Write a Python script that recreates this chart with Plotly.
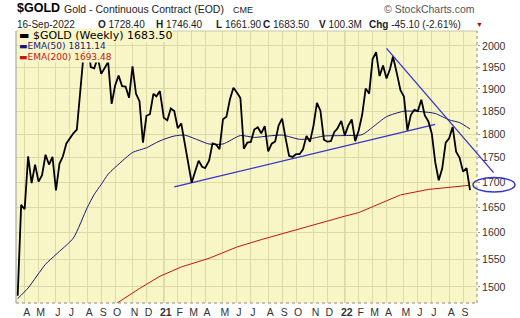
import numpy as np
import pandas as pd
import plotly.graph_objects as go

# ---------------- data ----------------
START = "2020-03-20"
CLOSES = [
    # 2020
    1484.0, 1654.2, 1645.7, 1752.8, 1698.0, 1735.6, 1700.9, 1713.9, 1756.3, 1735.8,
    1751.7, 1683.0, 1737.3, 1753.0, 1780.3, 1790.0, 1801.9, 1810.0, 1897.5, 1985.9,
    2028.0, 1949.9, 1947.0, 1972.9, 1934.3, 1947.9, 1962.1, 1866.3, 1907.6, 1930.4,
    1906.4, 1905.2, 1879.9, 1951.7, 1889.0, 1872.4, 1781.9, 1840.0, 1843.4, 1888.9,
    1883.2,
    # 2021
    1895.1, 1835.4, 1829.9, 1856.2, 1850.3, 1813.0, 1823.2, 1777.4, 1733.6, 1698.5,
    1721.4, 1743.9, 1731.2, 1728.4, 1743.7, 1780.2, 1777.8, 1768.1, 1832.4, 1838.1,
    1876.6, 1902.5, 1892.0, 1879.6, 1769.0, 1781.8, 1783.3, 1810.0, 1815.0, 1801.8,
    1817.2, 1763.1, 1779.6, 1784.3, 1818.9, 1833.7, 1791.0, 1753.9, 1751.7, 1757.4,
    1757.5, 1767.8, 1796.3, 1783.9, 1818.0, 1868.5, 1851.2, 1788.1, 1783.9, 1784.8,
    1804.9, 1811.7, 1828.6,
    # 2022
    1797.4, 1818.5, 1831.8, 1784.9, 1807.8, 1842.1, 1900.7, 1889.4, 1968.9, 1985.0,
    1929.3, 1954.0, 1923.7, 1945.6, 1974.9, 1934.3, 1896.8, 1882.8, 1808.2, 1842.1,
    1853.3, 1850.2, 1875.5, 1840.6, 1828.1, 1801.5, 1740.7, 1703.6, 1727.4, 1781.8,
    1791.2, 1815.7, 1762.9, 1749.8, 1721.2, 1728.4, 1683.5,
]
# weekly bars dated on the last trading day of a holiday week
HOLIDAY_BAR_DATES = {
    "2020-07-03": "2020-07-02", "2020-12-25": "2020-12-24", "2021-01-01": "2020-12-31",
    "2021-04-02": "2021-04-01", "2021-12-24": "2021-12-23", "2022-04-15": "2022-04-14",
}

EMA50_WEEK = [0, 3, 8, 11, 16, 20, 22, 24, 26, 30, 33, 37, 40, 42, 45, 48, 51, 55, 59,
              64, 68, 72, 76, 81, 84, 88, 94, 99, 102, 106, 111, 116, 120, 124, 127, 130]
EMA50_VAL = [1479, 1498, 1541, 1559, 1590, 1649, 1675, 1695, 1716, 1743, 1761, 1771, 1782,
             1789, 1796, 1798, 1790, 1779, 1779, 1797, 1793, 1796, 1798, 1789, 1790, 1796,
             1797, 1799, 1815, 1838, 1850, 1849, 1845, 1831, 1825, 1811.14]

EMA200_WEEK = [24, 29, 35, 41, 47, 55, 63, 70, 81, 87, 94, 98, 104, 110, 118, 123, 130]
EMA200_VAL = [1453, 1473, 1497, 1519, 1536, 1552, 1573, 1587, 1608, 1619, 1632, 1639,
              1657, 1674, 1685, 1689, 1693.48]

SUPPORT_DATES = ["2021-01-29", "2022-07-08"]
SUPPORT_VALS = [1690, 1821]
RESIST_DATES = ["2022-04-01", "2022-11-05"]
RESIST_VALS = [1994, 1716]

Y_TICKS = [1500, 1550, 1600, 1650, 1700, 1750, 1800, 1850, 1900, 1950, 2000]
MONTH_LETTERS = ["J", "F", "M", "A", "M", "J", "J", "A", "S", "O", "N", "D"]

# ---------------- derived ----------------
raw = pd.date_range(START, periods=len(CLOSES), freq="W-FRI").strftime("%Y-%m-%d")
dates = pd.to_datetime([HOLIDAY_BAR_DATES.get(d, d) for d in raw])
ema50_x = [dates[i] for i in EMA50_WEEK]
ema200_x = [dates[i] for i in EMA200_WEEK]

ser = pd.Series(dates, index=dates)
firsts = ser.groupby([dates.year, dates.month]).min().iloc[1:]
tickvals, ticktext, year_lines = [], [], []
for d in firsts:
    if d.month == 1:
        ticktext.append("<b>%s</b>" % str(d.year)[2:])
        year_lines.append(d)
    else:
        ticktext.append(MONTH_LETTERS[d.month - 1])
    tickvals.append(d)

# ---------------- layout helpers ----------------
W, H = 520, 318
ML, MR, MT, MB = 16, 43, 31, 15
PW, PH = W - ML - MR, H - MT - MB


def px(x):
    return (x - ML) / PW


def py(y):
    return (H - MB - y) / PH


BG = "#f8f6c6"
GRID = "#dcdaa6"
YEARGRID = "#aeac7c"
TREND = "#3434cc"
NAVY = "#16167a"
RED = "#c41414"

fig = go.Figure()
fig.add_trace(go.Scatter(x=ema200_x, y=EMA200_VAL, mode="lines",
                         line=dict(color=RED, width=1), hoverinfo="skip"))
fig.add_trace(go.Scatter(x=ema50_x, y=EMA50_VAL, mode="lines",
                         line=dict(color=NAVY, width=1, shape="spline", smoothing=0.6),
                         hoverinfo="skip"))
fig.add_trace(go.Scatter(x=pd.to_datetime(SUPPORT_DATES), y=SUPPORT_VALS, mode="lines",
                         line=dict(color=TREND, width=1.3), hoverinfo="skip"))
fig.add_trace(go.Scatter(x=dates, y=CLOSES, mode="lines",
                         line=dict(color="black", width=1.8)))

x0 = pd.Timestamp(START) - pd.Timedelta(days=3.4)
x1 = pd.Timestamp(START) + pd.Timedelta(days=924)

shapes = []
for d in year_lines:
    shapes.append(dict(type="line", xref="x", yref="paper", x0=d, x1=d, y0=0, y1=1,
                       line=dict(color=YEARGRID, width=1), layer="below"))
# frame
shapes.append(dict(type="line", xref="paper", yref="paper", x0=0, x1=0, y0=0, y1=1,
                   line=dict(color="#9a9a9a", width=1)))
shapes.append(dict(type="line", xref="paper", yref="paper", x0=0, x1=1, y0=1, y1=1,
                   line=dict(color="#c8c8a0", width=1)))
shapes.append(dict(type="line", xref="paper", yref="paper", x0=0, x1=1, y0=0, y1=0,
                   line=dict(color="#8a8a8a", width=1, dash="dot")))
shapes.append(dict(type="line", xref="paper", yref="paper", x0=1, x1=1, y0=0, y1=1,
                   line=dict(color="#8a8a8a", width=1, dash="dot")))
# ellipse around 1700
shapes.append(dict(type="circle", xref="paper", yref="paper",
                   x0=px(473), x1=px(515), y0=py(192), y1=py(177.5),
                   line=dict(color=TREND, width=1.5)))

ann = []
FS = "Liberation Sans"
DV = "DejaVu Sans"


def t(x, y, text, size, color="black", family=FS, xanchor="left", bg=None):
    d = dict(x=px(x), y=py(y), xref="paper", yref="paper", text=text, showarrow=False,
             xanchor=xanchor, yanchor="middle", font=dict(family=family, size=size, color=color))
    if bg:
        d["bgcolor"] = bg
        d["borderpad"] = 0
    ann.append(d)


t(15, 8.5, "<b>$GOLD</b>", 12.5)
t(62, 9.3, "Gold - Continuous Contract (EOD)", 10.5, "#222")
t(231, 10, "CME", 9, "#222")
t(477, 9, "© StockCharts.com", 10.5, "#555", xanchor="right")
t(15, 24, "16-Sep-2022", 10, "#222")
t(96, 24, "<b>O</b> 1728.40", 10, "#222")
t(154, 24, "<b>H</b> 1746.40", 10, "#222")
t(214, 24, "<b>L</b> 1661.90", 10, "#222")
t(261, 24, "<b>C</b> 1683.50", 10, "#222")
t(317, 24, "<b>V</b> 100.3M", 10, "#222")
t(367, 24, "<b>Chg</b> -45.10 (-2.61%)", 10, "#222")
t(474, 24.5, "▼", 7, "#c00000")

t(18, 35.5, "▬ $GOLD (Weekly) 1683.50", 11, "black", DV, bg=BG)
t(18, 46.3, "▬EMA(50) 1811.14", 9, NAVY, DV, bg=BG)
t(18, 57.2, "▬EMA(200) 1693.48", 9, RED, DV, bg=BG)

# descending trendline (extends past the plot edge toward the 1700 label)
ann.append(dict(x=pd.Timestamp(RESIST_DATES[0]), y=np.log10(RESIST_VALS[0]), xref="x", yref="y",
                ax=pd.Timestamp(RESIST_DATES[1]), ay=np.log10(RESIST_VALS[1]), axref="x", ayref="y",
                text="", showarrow=True, arrowhead=0, arrowwidth=1.3, arrowcolor=TREND,
                standoff=0, startstandoff=0))

fig.update_layout(
    width=W, height=H, margin=dict(l=ML, r=MR, t=MT, b=MB, autoexpand=False),
    paper_bgcolor="white", plot_bgcolor=BG, showlegend=False,
    shapes=shapes, annotations=ann,
    xaxis=dict(type="date", range=[x0, x1], tickvals=tickvals, ticktext=ticktext,
               showgrid=True, gridcolor=GRID, gridwidth=1, zeroline=False, ticks="",
               tickfont=dict(family=FS, size=10.5, color="#333"), ticklabelshift=2,
               ticklabelstandoff=1, showline=False, fixedrange=True, automargin=False),
    yaxis=dict(type="log", side="right", range=[np.log10(1471.3), np.log10(2036)],
               tickvals=Y_TICKS, ticktext=[str(v) for v in Y_TICKS],
               showgrid=True, gridcolor=GRID, gridwidth=1, zeroline=False,
               ticks="outside", ticklen=2, tickcolor="#999",
               tickfont=dict(family=FS, size=10.5, color="#333"), showline=False,
               fixedrange=True, automargin=False),
)

fig.write_html("out.html")
